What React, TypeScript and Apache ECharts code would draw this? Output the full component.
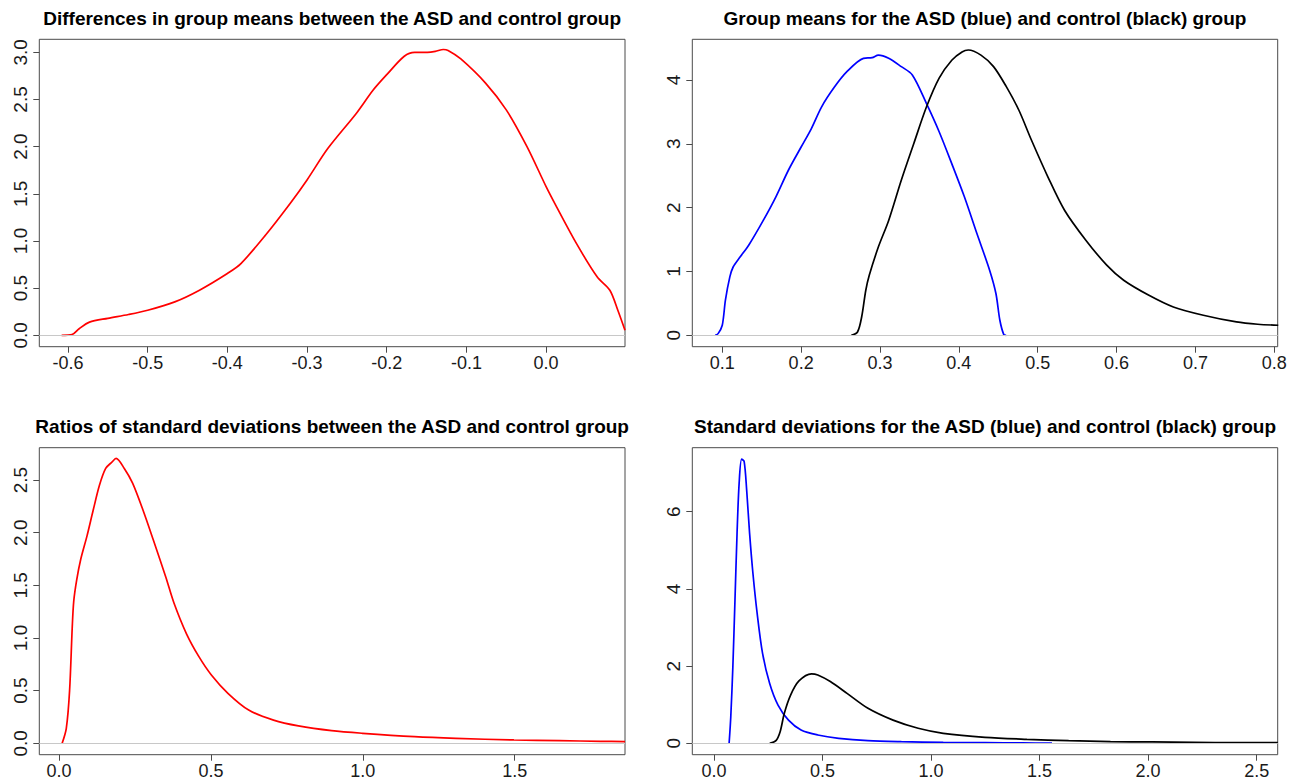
import React, { useEffect, useRef } from "react";
import * as echarts from "echarts";

// ---------- Titles ----------
const titles = [
  "Differences in group means between the ASD and control group",
  "Group means for the ASD (blue) and control (black) group",
  "Ratios of standard deviations between the ASD and control group",
  "Standard deviations for the ASD (blue) and control (black) group",
];

// ---------- Panel 1: differences in group means ----------
const diffMeansX = [-0.608, -0.595, -0.586, -0.573, -0.55, -0.524, -0.5, -0.466, -0.435, -0.4, -0.383, -0.352, -0.321, -0.3, -0.274, -0.238, -0.217, -0.2, -0.178, -0.165, -0.149, -0.139, -0.129, -0.123, -0.107, -0.076, -0.05, -0.024, 0.0, 0.012, 0.038, 0.064, 0.08, 0.09, 0.099];
const diffMeansY = [0, 0.007, 0.07, 0.14, 0.18, 0.22, 0.265, 0.354, 0.478, 0.655, 0.76, 1.063, 1.4, 1.647, 1.98, 2.355, 2.6, 2.763, 2.958, 3.0, 3.0, 3.01, 3.03, 3.02, 2.93, 2.674, 2.39, 2.0, 1.576, 1.38, 0.974, 0.62, 0.478, 0.266, 0.053];

// ---------- Panel 2: group means ----------
const meansAsdX = [0.091, 0.0947, 0.1, 0.104, 0.1096, 0.1138, 0.1228, 0.1335, 0.152, 0.168, 0.184, 0.2, 0.213, 0.226, 0.242, 0.258, 0.279, 0.29, 0.298, 0.311, 0.327, 0.341, 0.359, 0.375, 0.391, 0.407, 0.423, 0.439, 0.447, 0.452, 0.457, 0.46];
const meansAsdY = [0, 0.026, 0.157, 0.55, 0.915, 1.07, 1.23, 1.41, 1.8, 2.17, 2.59, 2.95, 3.24, 3.58, 3.885, 4.13, 4.34, 4.35, 4.39, 4.34, 4.21, 4.08, 3.63, 3.19, 2.69, 2.17, 1.59, 1.02, 0.654, 0.235, 0.01, 0];
const meansCtrlX = [0.2636, 0.2715, 0.2768, 0.282, 0.2864, 0.298, 0.311, 0.327, 0.343, 0.359, 0.375, 0.391, 0.404, 0.412, 0.428, 0.444, 0.46, 0.476, 0.492, 0.513, 0.534, 0.561, 0.5875, 0.609, 0.641, 0.672, 0.71, 0.752, 0.779, 0.805];
const meansCtrlY = [0, 0.052, 0.29, 0.706, 0.94, 1.386, 1.8, 2.43, 3.01, 3.58, 4.03, 4.31, 4.44, 4.47, 4.39, 4.21, 3.9, 3.53, 3.06, 2.48, 1.96, 1.49, 1.1, 0.863, 0.627, 0.444, 0.314, 0.209, 0.173, 0.157];

// ---------- Panel 3: ratios of standard deviations ----------
const ratioSdX = [0.0102, 0.0239, 0.0347, 0.0434, 0.0484, 0.058, 0.0716, 0.0921, 0.1125, 0.133, 0.1535, 0.1739, 0.1876, 0.2148, 0.2421, 0.2762, 0.3104, 0.3513, 0.3786, 0.4195, 0.4604, 0.5014, 0.5559, 0.6242, 0.706, 0.7879, 0.8971, 0.9994, 1.17, 1.3064, 1.4974, 1.6475, 1.7839, 1.863];
const ratioSdY = [0, 0.142, 0.5, 1.1, 1.35, 1.55, 1.75, 1.97, 2.215, 2.45, 2.61, 2.67, 2.705, 2.61, 2.47, 2.215, 1.93, 1.58, 1.33, 1.04, 0.823, 0.649, 0.475, 0.316, 0.22, 0.165, 0.12, 0.095, 0.063, 0.047, 0.032, 0.025, 0.019, 0.016];

// ---------- Panel 4: standard deviations ----------
const sdAsdX = [0.0696, 0.0773, 0.0869, 0.0966, 0.1062, 0.1158, 0.1274, 0.139, 0.1505, 0.164, 0.1794, 0.1987, 0.2237, 0.2565, 0.2949, 0.3432, 0.401, 0.478, 0.5744, 0.7093, 0.8634, 1.056, 1.2487, 1.4222, 1.557];
const sdAsdY = [0, 0.69, 1.99, 3.71, 5.44, 6.74, 7.36, 7.3, 6.56, 5.44, 4.4, 3.37, 2.33, 1.55, 0.99, 0.6, 0.345, 0.216, 0.13, 0.069, 0.043, 0.026, 0.017, 0.009, 0.003];
const sdCtrlX = [0.2565, 0.2854, 0.3047, 0.324, 0.3529, 0.3914, 0.4492, 0.478, 0.5359, 0.6129, 0.7093, 0.8249, 0.9405, 1.056, 1.2487, 1.4414, 1.634, 1.8268, 2.0195, 2.2122, 2.405, 2.5976];
const sdCtrlY = [0, 0.07, 0.3, 0.78, 1.25, 1.615, 1.8, 1.77, 1.6, 1.295, 0.907, 0.6, 0.389, 0.259, 0.155, 0.104, 0.069, 0.043, 0.035, 0.026, 0.017, 0.017];

// ---------- Tick values ----------
const p1XTicks = [-0.6, -0.5, -0.4, -0.3, -0.2, -0.1, 0.0];
const p1YTicks = [0, 0.5, 1.0, 1.5, 2.0, 2.5, 3.0];
const p2XTicks = [0.1, 0.2, 0.3, 0.4, 0.5, 0.6, 0.7, 0.8];
const p2YTicks = [0, 1, 2, 3, 4];
const p3XTicks = [0.0, 0.5, 1.0, 1.5];
const p3YTicks = [0, 0.5, 1.0, 1.5, 2.0, 2.5];
const p4XTicks = [0.0, 0.5, 1.0, 1.5, 2.0, 2.5];
const p4YTicks = [0, 2, 4, 6];

const zip = (xs: number[], ys: number[]) => xs.map((x, i) => [x, ys[i]]);

const FONT = '"Liberation Sans", Arial, "Helvetica", sans-serif';

export default function App() {
  const ref = useRef<HTMLDivElement>(null);

  useEffect(() => {
    if (!ref.current) return;
    const chart = echarts.init(ref.current, undefined, { renderer: "svg" });

    const grids = [
      { left: 39.3, top: 39.3, width: 585.7, height: 307.4 },
      { left: 692.3, top: 39.3, width: 585.4, height: 307.4 },
      { left: 39.3, top: 447.7, width: 585.7, height: 307 },
      { left: 692.3, top: 447.7, width: 585.4, height: 307 },
    ];
    const xRanges = [
      [-0.636, 0.099],
      [0.062, 0.8043],
      [-0.065, 1.863],
      [-0.1, 2.597],
    ];
    const yRanges = [
      [-0.121, 3.138],
      [-0.179, 4.638],
      [-0.108, 2.807],
      [-0.295, 7.658],
    ];
    const xTicks = [p1XTicks, p2XTicks, p3XTicks, p4XTicks];
    const yTicks = [p1YTicks, p2YTicks, p3YTicks, p4YTicks];
    const xDec = [1, 1, 1, 1];
    const yDec = [1, 0, 1, 0];

    const frameColor = "#4a4a4a";
    const labelColor = "#1a1a1a";

    const xAxis = grids.map((_, i) => ({
      type: "value",
      gridIndex: i,
      position: "bottom",
      min: xRanges[i][0],
      max: xRanges[i][1],
      axisLine: { show: false, onZero: false },
      splitLine: { show: false },
      axisTick: {
        show: true,
        length: 6,
        inside: false,
        customValues: xTicks[i],
        lineStyle: { color: frameColor, width: 1 },
      },
      axisLabel: {
        show: true,
        customValues: xTicks[i],
        margin: 7,
        color: labelColor,
        fontSize: 18,
        fontFamily: FONT,
        formatter: (v: number) => v.toFixed(xDec[i]),
      },
    }));

    const yAxis = grids.map((_, i) => ({
      type: "value",
      gridIndex: i,
      position: "left",
      min: yRanges[i][0],
      max: yRanges[i][1],
      axisLine: { show: false, onZero: false },
      splitLine: { show: false },
      axisTick: {
        show: true,
        length: 6,
        inside: false,
        customValues: yTicks[i],
        lineStyle: { color: frameColor, width: 1 },
      },
      axisLabel: {
        show: true,
        customValues: yTicks[i],
        rotate: 90,
        margin: 9,
        color: labelColor,
        fontSize: 19,
        fontFamily: FONT,
        formatter: (v: number) => v.toFixed(yDec[i]),
      },
    }));

    const zeroLine = {
      silent: true,
      symbol: "none",
      label: { show: false },
      lineStyle: { color: "#c8c8c8", width: 1, type: "solid" },
      data: [{ yAxis: 0 }],
    };

    const mk = (name: string, idx: number, xs: number[], ys: number[], color: string, withZero: boolean) => ({
      name,
      type: "line",
      xAxisIndex: idx,
      yAxisIndex: idx,
      data: zip(xs, ys),
      showSymbol: false,
      smooth: 0.3,
      lineStyle: { color, width: 1.7 },
      itemStyle: { color },
      z: 3,
      markLine: withZero ? zeroLine : undefined,
    });

    const graphic = titles.map((t, i) => ({
      type: "text",
      x: grids[i].left + grids[i].width / 2,
      y: i < 2 ? 18.5 : 426.7,
      silent: true,
      style: {
        text: t,
        fill: "#000",
        font: `bold 19px ${FONT}`,
        textAlign: "center",
        textVerticalAlign: "middle",
        align: "center",
        verticalAlign: "middle",
      },
    }));

    chart.setOption({
      animation: false,
      backgroundColor: "#ffffff",
      grid: grids.map((g) => ({
        ...g,
        show: true,
        borderColor: frameColor,
        borderWidth: 1,
        backgroundColor: "transparent",
        containLabel: false,
      })),
      xAxis,
      yAxis,
      graphic,
      series: [
        mk("diff", 0, diffMeansX, diffMeansY, "#ff0000", true),
        mk("meansAsd", 1, meansAsdX, meansAsdY, "#0000ff", true),
        mk("meansCtrl", 1, meansCtrlX, meansCtrlY, "#000000", false),
        mk("ratioSd", 2, ratioSdX, ratioSdY, "#ff0000", true),
        mk("sdAsd", 3, sdAsdX, sdAsdY, "#0000ff", true),
        mk("sdCtrl", 3, sdCtrlX, sdCtrlY, "#000000", false),
      ],
    });

    return () => chart.dispose();
  }, []);

  return (
    <div
      ref={ref}
      style={{ position: "absolute", left: 0, top: 0, width: 1307, height: 781, background: "#fff" }}
    />
  );
}
